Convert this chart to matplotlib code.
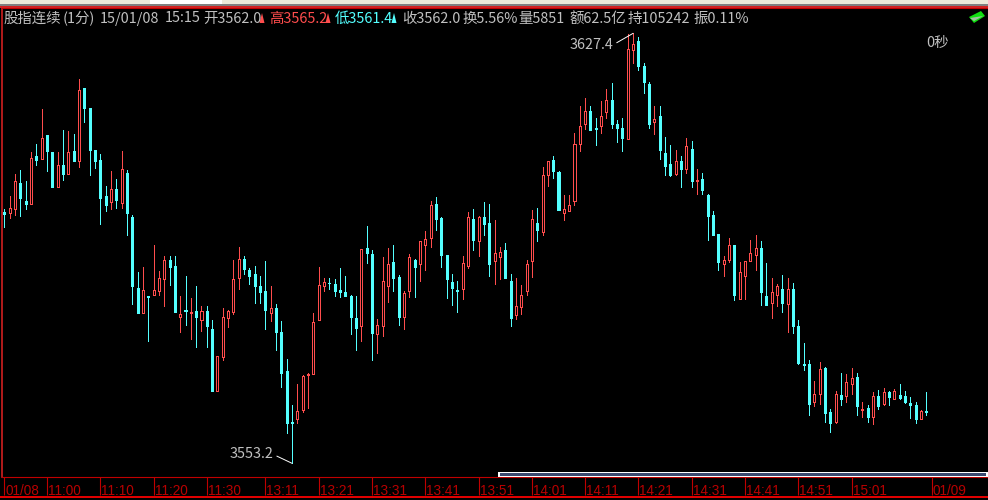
#!/usr/bin/env python3
"""股指连续 1分钟K线图"""

import matplotlib
matplotlib.use("Agg")
import matplotlib.pyplot as plt
from matplotlib.patches import Polygon, Rectangle

plt.rcParams["font.family"] = ["Noto Sans CJK SC", "DejaVu Sans"]

# R = 阳线, C = 阴线
directions = (
    "CRRCCRCRCC" "RCRCRCCCCC" "RCRCCCRCRR" "RCCRCRCRCC" "RRRRRCCCCC"
    "RCCCCRRRRR" "RCCCCCCRCC" "RRRCCRRCRR" "RCCCCCRRCR" "CCRRCCRRRR"
    "CRRCCRRRRR" "CCRRCCCRRC" "CCRCCCRCRC" "RCCCCRRCRR" "RRCCRRCRCC"
    "CCRRCCRCRR" "CRCRCRCRCC" "CCRC"
)
highs = [
    3597.0, 3599.3, 3603.1, 3603.9, 3601.9, 3606.9, 3608.3, 3614.3, 3609.9, 3606.9,
    3606.9, 3610.8, 3610.5, 3610.1, 3619.6, 3618.0, 3614.5, 3607.3, 3606.6, 3601.0,
    3603.6, 3602.3, 3607.1, 3603.9, 3596.0, 3586.2, 3587.1, 3582.1, 3590.9, 3586.4,
    3589.0, 3589.0, 3589.0, 3582.1, 3585.5, 3581.7, 3583.8, 3580.3, 3580.3, 3577.9,
    3571.7, 3580.0, 3579.7, 3588.3, 3590.5, 3589.0, 3586.9, 3587.2, 3585.5, 3588.1,
    3583.8, 3580.7, 3577.8, 3571.2, 3563.3, 3566.9, 3568.4, 3568.8, 3579.1, 3587.1,
    3585.2, 3585.2, 3585.0, 3586.9, 3585.5, 3582.2, 3582.1, 3590.2, 3594.2, 3590.0,
    3578.1, 3588.8, 3590.4, 3590.9, 3585.7, 3582.9, 3589.3, 3588.5, 3591.6, 3593.3,
    3598.5, 3599.2, 3595.7, 3589.2, 3585.9, 3584.7, 3589.0, 3596.6, 3597.1, 3595.9,
    3598.3, 3598.0, 3595.2, 3590.5, 3591.2, 3585.9, 3585.2, 3584.0, 3588.3, 3596.9,
    3597.3, 3604.3, 3605.4, 3606.2, 3603.6, 3599.5, 3599.5, 3610.2, 3614.9, 3616.2,
    3614.9, 3612.8, 3615.7, 3617.8, 3618.8, 3612.4, 3612.8, 3627.3, 3627.4, 3626.8,
    3622.3, 3619.0, 3614.9, 3614.9, 3609.5, 3608.1, 3607.3, 3606.2, 3609.3, 3608.8,
    3604.0, 3603.3, 3599.7, 3596.7, 3592.8, 3589.0, 3592.1, 3590.9, 3587.9, 3588.1,
    3591.7, 3592.6, 3591.6, 3587.8, 3585.2, 3584.1, 3585.7, 3585.2, 3584.3, 3577.9,
    3574.0, 3571.0, 3567.4, 3570.7, 3569.8, 3562.6, 3565.7, 3568.8, 3568.6, 3569.6,
    3568.8, 3563.8, 3563.3, 3565.5, 3565.9, 3566.2, 3565.7, 3566.0, 3566.9, 3565.7,
    3564.6, 3563.8, 3562.4, 3565.5,
]
body_tops = [
    3596.5, 3597.2, 3601.9, 3601.6, 3598.5, 3605.8, 3606.2, 3609.3, 3609.9, 3606.9,
    3604.7, 3604.7, 3606.9, 3607.1, 3617.6, 3618.0, 3614.5, 3607.3, 3605.5, 3599.3,
    3600.5, 3600.5, 3604.0, 3603.3, 3595.7, 3583.5, 3583.1, 3582.1, 3583.1, 3585.2,
    3588.3, 3588.3, 3587.2, 3579.0, 3579.7, 3579.3, 3579.5, 3579.5, 3579.5, 3576.4,
    3571.7, 3578.4, 3579.5, 3585.0, 3588.5, 3588.5, 3586.6, 3585.9, 3583.8, 3582.9,
    3580.0, 3580.0, 3575.9, 3569.1, 3560.3, 3562.2, 3568.3, 3568.6, 3577.6, 3584.0,
    3584.5, 3584.4, 3584.1, 3583.1, 3582.8, 3582.1, 3578.3, 3590.2, 3590.4, 3589.3,
    3577.1, 3584.7, 3587.6, 3587.9, 3585.3, 3582.6, 3588.8, 3588.3, 3591.6, 3591.9,
    3597.8, 3598.0, 3595.5, 3589.2, 3584.5, 3583.1, 3587.8, 3595.7, 3595.4, 3595.7,
    3595.7, 3594.7, 3589.5, 3589.7, 3590.0, 3584.7, 3580.3, 3582.2, 3587.6, 3595.4,
    3594.7, 3603.0, 3605.4, 3605.5, 3603.5, 3597.1, 3597.8, 3608.3, 3611.4, 3614.0,
    3614.0, 3611.1, 3613.1, 3615.9, 3615.9, 3611.8, 3611.1, 3624.7, 3625.6, 3626.1,
    3621.8, 3618.7, 3612.6, 3613.1, 3606.8, 3604.9, 3605.4, 3605.4, 3608.0, 3607.4,
    3602.1, 3602.3, 3599.5, 3596.0, 3592.8, 3588.3, 3590.9, 3590.9, 3586.2, 3588.1,
    3589.5, 3590.4, 3590.4, 3582.1, 3582.8, 3583.8, 3583.3, 3583.3, 3583.3, 3576.9,
    3570.3, 3570.3, 3565.2, 3569.5, 3569.6, 3562.1, 3565.2, 3565.0, 3567.2, 3567.9,
    3568.1, 3562.6, 3562.8, 3564.8, 3564.8, 3565.5, 3565.5, 3565.7, 3565.0, 3564.8,
    3563.6, 3563.3, 3562.2, 3562.2,
]
body_bottoms = [
    3596.3, 3596.4, 3597.1, 3599.0, 3598.0, 3598.0, 3605.5, 3605.7, 3607.1, 3600.9,
    3600.8, 3603.1, 3603.2, 3605.4, 3605.4, 3614.6, 3607.3, 3605.4, 3599.0, 3597.8,
    3598.3, 3598.6, 3598.1, 3596.4, 3583.8, 3579.1, 3579.1, 3581.9, 3582.2, 3582.9,
    3585.0, 3587.1, 3579.3, 3578.4, 3579.5, 3579.1, 3578.4, 3577.9, 3576.9, 3565.7,
    3565.7, 3571.5, 3578.3, 3579.3, 3585.2, 3586.7, 3585.5, 3583.8, 3582.8, 3579.7,
    3579.1, 3575.9, 3568.8, 3560.2, 3560.2, 3560.8, 3562.4, 3568.4, 3568.6, 3577.9,
    3583.8, 3584.3, 3582.9, 3582.8, 3582.1, 3578.4, 3576.6, 3576.9, 3589.5, 3575.7,
    3575.5, 3576.9, 3583.8, 3585.2, 3578.4, 3578.4, 3582.9, 3587.1, 3587.6, 3590.9,
    3592.1, 3595.4, 3589.2, 3585.0, 3583.5, 3582.9, 3583.3, 3587.2, 3591.7, 3591.6,
    3594.5, 3587.6, 3588.1, 3588.8, 3585.2, 3578.3, 3578.8, 3580.2, 3582.9, 3588.1,
    3593.5, 3593.1, 3603.0, 3603.6, 3596.9, 3596.4, 3596.7, 3598.5, 3608.3, 3611.8,
    3610.7, 3610.9, 3611.4, 3613.8, 3611.8, 3611.1, 3609.3, 3609.2, 3624.5, 3621.8,
    3619.0, 3611.8, 3612.1, 3607.3, 3604.5, 3603.0, 3603.1, 3604.0, 3604.0, 3601.9,
    3601.9, 3600.4, 3595.9, 3592.6, 3587.9, 3587.6, 3588.3, 3582.2, 3581.6, 3585.5,
    3588.1, 3589.2, 3582.8, 3580.5, 3580.9, 3582.2, 3580.9, 3580.7, 3576.9, 3570.5,
    3570.2, 3563.4, 3563.8, 3565.2, 3561.9, 3560.2, 3560.3, 3564.3, 3564.8, 3566.9,
    3563.1, 3562.4, 3561.2, 3561.2, 3563.1, 3563.4, 3564.6, 3564.3, 3564.5, 3563.8,
    3563.3, 3560.8, 3560.8, 3562.0,
]
lows = [
    3594.0, 3595.6, 3596.0, 3595.9, 3597.1, 3598.0, 3604.7, 3605.7, 3603.6, 3600.9,
    3600.8, 3602.1, 3603.2, 3605.4, 3604.4, 3612.1, 3603.0, 3604.2, 3594.5, 3596.7,
    3597.1, 3597.3, 3597.3, 3592.6, 3580.7, 3579.1, 3579.1, 3574.3, 3582.2, 3582.2,
    3580.3, 3584.0, 3579.3, 3575.9, 3577.1, 3574.7, 3573.3, 3576.0, 3573.3, 3565.7,
    3565.7, 3571.0, 3576.7, 3579.0, 3583.3, 3585.9, 3584.1, 3580.9, 3580.9, 3576.4,
    3577.8, 3572.8, 3566.4, 3558.4, 3553.2, 3560.2, 3562.1, 3562.7, 3568.6, 3577.9,
    3582.9, 3583.3, 3582.1, 3581.9, 3582.1, 3575.5, 3572.8, 3574.3, 3587.8, 3571.0,
    3572.2, 3575.2, 3581.0, 3582.9, 3577.1, 3576.4, 3581.9, 3581.9, 3584.7, 3586.6,
    3590.5, 3593.5, 3587.1, 3581.7, 3580.5, 3579.3, 3581.6, 3586.9, 3590.0, 3589.0,
    3592.6, 3585.5, 3584.1, 3585.0, 3585.2, 3576.9, 3578.1, 3579.0, 3582.2, 3585.3,
    3591.6, 3592.6, 3601.1, 3602.4, 3596.9, 3595.2, 3596.7, 3597.8, 3607.1, 3610.9,
    3610.7, 3608.1, 3610.2, 3612.8, 3611.1, 3608.6, 3607.1, 3609.2, 3622.3, 3621.1,
    3617.1, 3611.1, 3610.0, 3605.7, 3603.0, 3602.8, 3603.0, 3600.9, 3603.3, 3600.9,
    3599.7, 3599.7, 3591.7, 3592.6, 3586.6, 3585.5, 3587.9, 3581.4, 3581.6, 3581.6,
    3588.1, 3586.6, 3580.5, 3580.5, 3578.3, 3580.3, 3579.3, 3575.9, 3575.7, 3570.3,
    3569.3, 3561.5, 3563.1, 3563.4, 3560.3, 3558.6, 3560.2, 3563.3, 3563.8, 3565.2,
    3561.5, 3561.2, 3560.3, 3560.0, 3562.6, 3563.3, 3563.3, 3564.3, 3564.3, 3563.6,
    3561.0, 3560.2, 3560.8, 3561.5,
]

tick_positions = [0, 8, 18, 28, 38, 49, 59, 69, 79, 89, 99, 109, 119, 129, 139, 149, 159, 174]
tick_labels = ["01/08", "11:00", "11:10", "11:20", "11:30", "13:11", "13:21", "13:31", "13:41",
               "13:51", "14:01", "14:11", "14:21", "14:31", "14:41", "14:51", "15:01", "01/09"]

RED = "#ff4d4d"
CYAN = "#54ffff"
GRAY = "#c0c0c0"
LINE_RED = "#c00000"


def header(x, text, color=GRAY):
    fig.text(x / 988, 1 - 18.5 / 500, text, color=color, fontsize=10.4, va="center", ha="left")


def px_rect(x0, y0, x1, y1, **kw):
    fig.add_artist(Rectangle((x0 / 988, 1 - y1 / 500), (x1 - x0) / 988, (y1 - y0) / 500,
                             transform=fig.transFigure, linewidth=kw.pop("lw", 0), **kw))


fig = plt.figure(figsize=(9.88, 5), dpi=100, facecolor="black")
ax = fig.add_axes([2 / 988, 23 / 500, 986 / 988, 469 / 500], facecolor="black")

xs = list(range(len(highs)))
colors = [RED if d == "R" else CYAN for d in directions]
ax.vlines(xs, lows, highs, colors=colors, linewidth=0.72, antialiased=False, zorder=2)
heights = [t - b for t, b in zip(body_tops, body_bottoms)]
faces = ["black" if d == "R" else CYAN for d in directions]
ax.bar(xs, heights, bottom=body_bottoms, width=0.38, color=faces, edgecolor=colors,
       linewidth=0.72, antialiased=False, zorder=3)

ax.set_xlim(-0.437, 184.6)
ax.set_ylim(3550.84, 3631.77)

for side in ("top", "bottom"):
    ax.spines[side].set_color(LINE_RED)
    ax.spines[side].set_linewidth(0.8)
ax.spines["left"].set_color("#d02020")
ax.spines["left"].set_linewidth(1.2)
ax.spines["right"].set_visible(False)
ax.set_yticks([])
ax.set_xticks(tick_positions)
ax.set_xticklabels([])
ax.tick_params(axis="x", direction="out", length=13, width=0.8, color=LINE_RED)

for pos, label in zip(tick_positions, tick_labels):
    ax.annotate(label, xy=(pos, 0), xycoords=("data", "axes fraction"), xytext=(1, -14),
                textcoords="offset pixels", color="#b80000", fontsize=9.8, ha="left", va="center",
                family=["Liberation Sans", "DejaVu Sans"], annotation_clip=False)

# 最高 / 最低 标注
ax.annotate("3627.4", xy=(118, 3627.4), xytext=(-20, -11.5), textcoords="offset pixels",
            color=GRAY, fontsize=10.4, ha="right", va="center",
            arrowprops=dict(arrowstyle="-", color="white", lw=0.7, relpos=(1, 0.5),
                            patchA=None, shrinkA=3, shrinkB=0))
ax.annotate("3553.2", xy=(54, 3553.2), xytext=(-19, 9), textcoords="offset pixels",
            color=GRAY, fontsize=10.4, ha="right", va="center",
            arrowprops=dict(arrowstyle="-", color="white", lw=0.7, relpos=(1, 0.5),
                            patchA=None, shrinkA=3, shrinkB=0))

# 顶部信息栏
header(3, "股指连续")
header(63, "(1分)")
header(100, "15/01/08")
header(165, "15:15")
header(203, "开3562.0")
header(269, "高3565.2", RED)
header(335, "低3561.4", CYAN)
header(402, "收3562.0")
header(462, "换5.56%")
header(518, "量5851")
header(569, "额62.5亿")
header(628, "持105242")
header(693, "振0.11%")
fig.text(926 / 988, 1 - 42.5 / 500, "0秒", color=GRAY, fontsize=10.4, va="center", ha="left")
for x, c in ((262, RED), (328, RED), (394, CYAN)):
    fig.add_artist(Polygon([((x - 2.5) / 988, 1 - 23 / 500), ((x + 2.5) / 988, 1 - 23 / 500),
                            (x / 988, 1 - 13 / 500)], transform=fig.transFigure, color=c, lw=0))

# 窗口边框
px_rect(0, 0, 988, 4, color="#ece9d8")
px_rect(150, 0, 222, 4, color="white")
px_rect(0, 4, 988, 6, color="#808080")
px_rect(0, 6, 988, 8, color="#d02020")
px_rect(0, 496, 988, 497.5, color="#e00000")
px_rect(498, 472, 988, 477, color="white")
px_rect(499.5, 473, 986, 475.5, color="#3a4a70")

# 绿色小图标
fig.add_artist(Polygon([(969 / 988, 1 - 17 / 500), (981 / 988, 1 - 11 / 500), (985 / 988, 1 - 16 / 500),
                        (974 / 988, 1 - 23 / 500)], transform=fig.transFigure, color="#10e010", lw=0))
fig.add_artist(Polygon([(970 / 988, 1 - 18 / 500), (983 / 988, 1 - 16 / 500), (974 / 988, 1 - 21 / 500)],
                       transform=fig.transFigure, color="#a0c0a0", lw=0))

fig.savefig("out.png", dpi=100, facecolor="black")
